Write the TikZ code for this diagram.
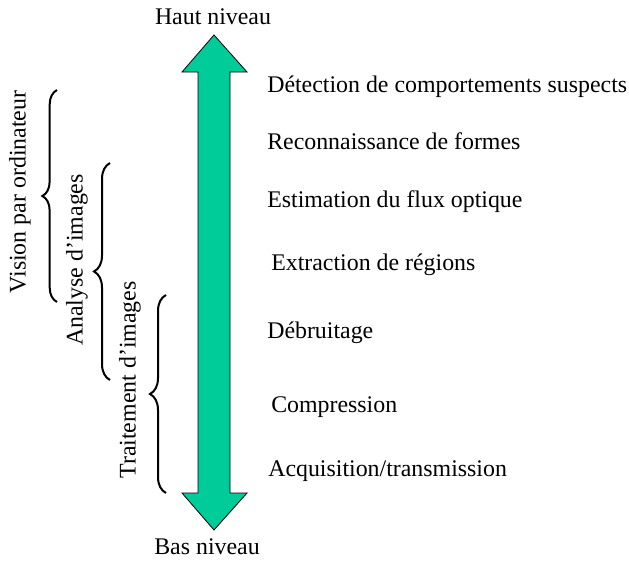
\documentclass[tikz,border=0pt]{standalone}
\usepackage{fontspec}
\setmainfont{Liberation Serif}
\usetikzlibrary{decorations.pathreplacing}
\definecolor{flecheverte}{RGB}{0,204,153}
\begin{document}
\begin{tikzpicture}[x=0.75pt, y=-0.75pt,
  etiquette/.style={font=\fontsize{17.9}{21}\selectfont, inner sep=0pt},
  niveau/.style={etiquette, anchor=west},
  accolade/.style={decorate, line width=1.5pt, decoration={brace, amplitude=#1}},
  domaine/.style={etiquette, rotate=90}]
\useasboundingbox (0,0) rectangle (629,561);
% double fleche
\draw[fill=flecheverte, line width=0.6pt, line join=miter] (214,35) -- (247,72) -- (230,72) -- (230,493) -- (247,493)
  -- (214,530) -- (182,493) -- (198,493) -- (198,72) -- (182,72) -- cycle;
\node[etiquette] (haut) at (213,17) {Haut niveau};
\node[etiquette] (bas) at (207,547) {Bas niveau};
% etapes
\node[niveau] (detection) at (267,87) {Détection de comportements suspects};
\node[niveau] (formes) at (267,141) {Reconnaissance de formes};
\node[niveau] (flux) at (267,202) {Estimation du flux optique};
\node[niveau] (regions) at (271,265) {Extraction de régions};
\node[niveau] (debruitage) at (267,333) {Débruitage};
\node[niveau] (compression) at (271,407) {Compression};
\node[niveau] (acquisition) at (268,471) {Acquisition/transmission};
% accolades
\coordinate (vision bas) at (57,302);
\coordinate (vision haut) at (57,90);
\coordinate (analyse bas) at (110,380);
\coordinate (analyse haut) at (110,163);
\coordinate (traitement bas) at (166,493);
\coordinate (traitement haut) at (166,295);
\draw[accolade=11pt] (vision bas) -- (vision haut);
\draw[accolade=12pt] (analyse bas) -- (analyse haut);
\draw[accolade=12pt] (traitement bas) -- (traitement haut);
\node[domaine] (vision) at (20,192) {Vision par ordinateur};
\node[domaine] (analyse) at (77,260) {Analyse d’images};
\node[domaine] (traitement) at (130,380) {Traitement d’images};
\end{tikzpicture}
\end{document}
